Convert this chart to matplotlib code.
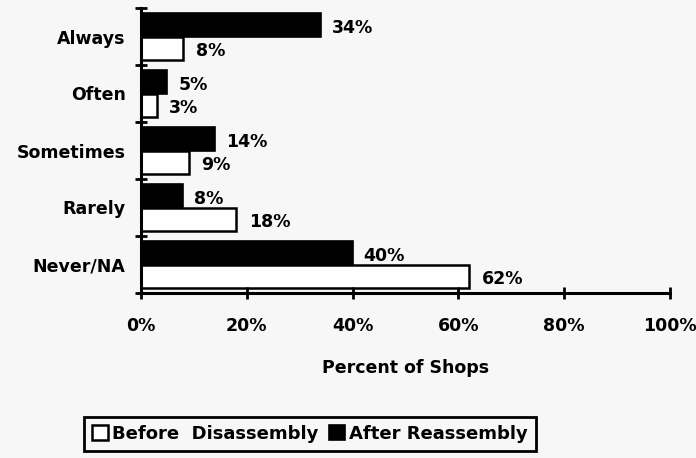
import matplotlib
matplotlib.use("Agg")
import matplotlib.pyplot as plt
import numpy as np

categories = ["Always", "Often", "Sometimes", "Rarely", "Never/NA"]
before = [8, 3, 9, 18, 62]
after = [34, 5, 14, 8, 40]
xticks = [0, 20, 40, 60, 80, 100]
xticklabels = ["0%", "20%", "40%", "60%", "80%", "100%"]

plt.rcParams['font.family'] = ['DejaVu Sans']
plt.rcParams['font.weight'] = 'bold'

bg = '#f7f7f7'
fs = 12.5
fig = plt.figure(figsize=(6.96, 4.58), dpi=100, facecolor=bg)
ax = fig.add_axes([141/696, 1-293/458, (670-141)/696, (293-8)/458], facecolor=bg)

n = len(categories)
ypos = np.arange(n)[::-1]
h = 0.42
b1 = ax.barh(ypos + h/2, after, height=h, color='black', edgecolor='black', linewidth=1.2, label='After Reassembly')
b2 = ax.barh(ypos - h/2, before, height=h, color='white', edgecolor='black', linewidth=1.8, label='Before  Disassembly')

for y, v in zip(ypos, after):
    ax.annotate(f"{v}%", (v, y + h/2), xytext=(8, -2.5), textcoords='offset points',
                va='center', ha='left', fontsize=fs, fontweight='bold')
for y, v in zip(ypos, before):
    ax.annotate(f"{v}%", (v, y - h/2), xytext=(9, -2), textcoords='offset points',
                va='center', ha='left', fontsize=fs, fontweight='bold')

ax.set_xlim(0, 100)
ax.set_ylim(-0.5, n - 0.5)
for s in ['top', 'right']:
    ax.spines[s].set_visible(False)
for s in ['left', 'bottom']:
    ax.spines[s].set_linewidth(2.2)

ax.set_xticks(xticks)
ax.set_xticklabels(xticklabels, fontsize=fs, fontweight='bold')
ax.tick_params(axis='x', direction='inout', length=9, width=2, pad=13)

ax.set_yticks(ypos)
ax.set_yticklabels(categories, fontsize=fs, fontweight='bold')
ax.tick_params(axis='y', which='major', length=0, pad=11)
ax.set_yticks(np.arange(n + 1) - 0.5, minor=True)
ax.tick_params(axis='y', which='minor', direction='inout', length=9, width=2)

ax.set_xlabel("Percent of Shops", fontsize=fs, fontweight='bold', labelpad=17)

handles = [b2, b1]
leg = fig.legend(handles, ['Before  Disassembly', 'After Reassembly'], loc='center',
                 bbox_to_anchor=(310/696, 1-434/458), ncol=2, frameon=True, fancybox=False,
                 edgecolor='black', facecolor=bg, framealpha=1, handlelength=0.9, handleheight=0.9,
                 handletextpad=0.2, columnspacing=0.6, borderpad=0.45,
                 prop={'weight': 'bold', 'size': 13})
leg.get_frame().set_linewidth(2)

fig.savefig("out.png", dpi=100, facecolor=bg)
